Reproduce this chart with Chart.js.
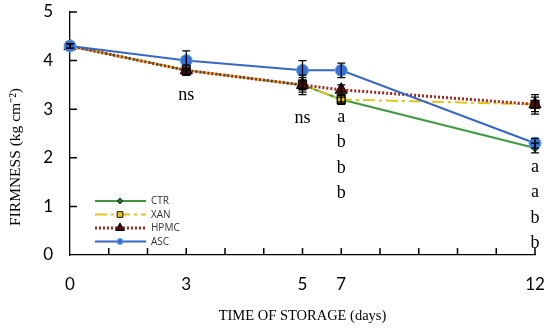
<!DOCTYPE html>
<html lang="en">
<head>
    <meta charset="UTF-8">
    <title>Firmness</title>
    <script src="https://cdn.jsdelivr.net/npm/chart.js"></script>
    <style>
        html, body { margin: 0; padding: 0; background: #fff; }
        .wrap { width: 550px; height: 329px; position: relative; }
    </style>
</head>
<body>
    <div class="wrap"><canvas id="firmChart"></canvas></div>
    <script>
        // tick labels on the category axis (blank slots between days)
        const tickLabels = ['0', '', '', '3', '', '', '5', '7', '', '', '', '', '12'];
        const days = ['0', '3', '5', '7', '12'];

        // firmness (kg cm-2)
        const ctr  = [4.3, 3.8, 3.5, 3.2, 2.2];
        const xan  = [4.3, 3.8, 3.5, 3.2, 3.1];
        const hpmc = [4.3, 3.8, 3.5, 3.4, 3.1];
        const asc  = [4.3, 4.0, 3.8, 3.8, 2.3];

        // standard deviation
        const ctrErr  = [0.05, 0.1, 0.1, 0.05, 0.1];
        const xanErr  = [0.05, 0.1, 0.15, 0.1, 0.15];
        const hpmcErr = [0.05, 0.1, 0.2, 0.1, 0.2];
        const ascErr  = [0.05, 0.2, 0.2, 0.15, 0.1];

        // significance letters per day
        const sigDays = ['3', '5', '7', '12'];
        const sigTop = [3.29, 2.82, 2.84, 1.81];
        const sigText = [['ns'], ['ns'], ['a', 'b', 'b', 'b'], ['a', 'a', 'b', 'b']];

        const toPoints = (vals) => days.map((d, i) => ({ x: d, y: vals[i] }));

        const datasets = [
            { label: 'CTR', data: toPoints(ctr), err: ctrErr, order: 3, legendR: 3,
              borderColor: '#3f9a3f', borderWidth: 2,
              pointStyle: 'rectRot', pointRadius: 4, pointBackgroundColor: '#2c6e2c', pointBorderColor: '#1d3f1d', pointBorderWidth: 1 },
            { label: 'XAN', data: toPoints(xan), err: xanErr, order: 2, legendR: 4,
              borderColor: '#e2c41a', borderWidth: 2, borderDash: [12, 4, 3, 4],
              pointStyle: 'rect', pointRadius: 5.5, pointBackgroundColor: '#e8c81c', pointBorderColor: '#111', pointBorderWidth: 1.5 },
            { label: 'HPMC', data: toPoints(hpmc), err: hpmcErr, order: 1, legendR: 5,
              borderColor: '#a3261f', borderWidth: 3, borderDash: [2, 2],
              pointStyle: 'triangle', pointRadius: 7, pointBackgroundColor: '#4a0d08', pointBorderColor: '#000', pointBorderWidth: 1 },
            { label: 'ASC', data: toPoints(asc), err: ascErr, order: 0, legendR: 3,
              borderColor: '#3766c6', borderWidth: 2,
              pointStyle: 'circle', pointRadius: 6, pointBackgroundColor: '#3a6fd6', pointBorderColor: '#56a8dc', pointBorderWidth: 1 }
        ];

        // error bars and inward tick marks
        const extras = {
            id: 'extras',
            afterDatasetsDraw(chart) {
                const ctx = chart.ctx;
                const xs = chart.scales.x, ys = chart.scales.y;
                const area = chart.chartArea;
                ctx.save();
                ctx.setLineDash([]);
                ctx.strokeStyle = '#000';
                ctx.lineWidth = 1.3;
                datasets.forEach(ds => {
                    ds.data.forEach((p, i) => {
                        const x = xs.getPixelForValue(xs.getLabels().indexOf(p.x));
                        const yt = ys.getPixelForValue(p.y + ds.err[i]);
                        const yb = ys.getPixelForValue(p.y - ds.err[i]);
                        ctx.beginPath();
                        ctx.moveTo(x, yt); ctx.lineTo(x, yb);
                        ctx.moveTo(x - 4, yt); ctx.lineTo(x + 4, yt);
                        ctx.moveTo(x - 4, yb); ctx.lineTo(x + 4, yb);
                        ctx.stroke();
                    });
                });

                ctx.lineWidth = 1.5;
                ctx.beginPath();
                for (let i = 1; i < tickLabels.length; i++) {
                    const x = xs.getPixelForValue(i);
                    ctx.moveTo(x, area.bottom); ctx.lineTo(x, area.bottom - 7);
                }
                for (let v = 1; v <= 5; v++) {
                    const y = ys.getPixelForValue(v);
                    ctx.moveTo(area.left, y); ctx.lineTo(area.left + 7, y);
                }
                ctx.stroke();
                ctx.restore();
            },
            afterDraw(chart) {
                const ctx = chart.ctx;
                const xs = chart.scales.x, ys = chart.scales.y;
                ctx.save();

                // y axis title
                ctx.save();
                ctx.translate(16, 157);
                ctx.rotate(-Math.PI / 2);
                ctx.fillStyle = '#000';
                ctx.font = '15.5px "Liberation Serif", serif';
                ctx.textAlign = 'center';
                ctx.textBaseline = 'middle';
                ctx.fillText('FIRMNESS (kg cm⁻²)', 0, 0);
                ctx.restore();

                // significance letters
                ctx.fillStyle = '#000';
                ctx.font = '18px "Liberation Serif", serif';
                ctx.textAlign = 'center';
                ctx.textBaseline = 'middle';
                sigDays.forEach((d, i) => {
                    const x = xs.getPixelForValue(xs.getLabels().indexOf(d));
                    const y0 = ys.getPixelForValue(sigTop[i]);
                    sigText[i].forEach((t, k) => ctx.fillText(t, x, y0 + k * 25.5));
                });

                // legend inside plot
                ctx.font = '10px "Open Sans", sans-serif';
                ctx.textAlign = 'left';
                const lx = 95, ly = 201;
                datasets.forEach((ds, i) => {
                    const y = ly + i * 13.5;
                    ctx.save();
                    ctx.strokeStyle = ds.borderColor;
                    ctx.lineWidth = ds.borderWidth;
                    ctx.setLineDash(ds.borderDash || []);
                    ctx.beginPath();
                    ctx.moveTo(lx, y); ctx.lineTo(lx + 51, y);
                    ctx.stroke();
                    ctx.restore();
                    ctx.save();
                    ctx.fillStyle = ds.pointBackgroundColor;
                    ctx.strokeStyle = ds.pointBorderColor;
                    ctx.lineWidth = 1;
                    Chart.helpers.drawPoint(ctx, { pointStyle: ds.pointStyle, radius: ds.legendR, borderWidth: 1 }, lx + 25, y);
                    ctx.restore();
                    ctx.fillStyle = '#333';
                    ctx.fillText(ds.label, lx + 56, y + 0.5);
                });
                ctx.restore();
            }
        };

        new Chart(document.getElementById('firmChart'), {
            type: 'line',
            data: { labels: tickLabels, datasets: datasets },
            options: {
                responsive: true,
                maintainAspectRatio: false,
                animation: false,
                spanGaps: true,
                layout: { padding: { top: 12, right: 15, left: 0, bottom: 0 } },
                plugins: { legend: { display: false }, tooltip: { enabled: false } },
                elements: { line: { tension: 0, fill: false } },
                scales: {
                    x: {
                        type: 'category',
                        offset: false,
                        grid: { display: true, drawOnChartArea: false, drawTicks: false },
                        border: { color: '#000', width: 1.3 },
                        ticks: { color: '#000', padding: 19, maxRotation: 0, autoSkip: false,
                                 font: { family: 'Lato', size: 17 } },
                        title: { display: true, text: 'TIME OF STORAGE (days)', color: '#000',
                                 font: { family: 'Liberation Serif', size: 14.5 }, padding: { top: 8 } },
                        afterFit: (s) => { s.height = 74; s.paddingLeft = 0; s.paddingRight = 0; }
                    },
                    y: {
                        min: 0, max: 5,
                        grid: { display: true, drawOnChartArea: false, drawTicks: false },
                        border: { color: '#000', width: 1.3 },
                        ticks: { stepSize: 1, color: '#000', padding: 17,
                                 font: { family: 'Lato', size: 17 } },
                        afterFit: (s) => { s.width = 70; s.paddingTop = 0; s.paddingBottom = 0; }
                    }
                }
            },
            plugins: [extras]
        });
    </script>
</body>
</html>
